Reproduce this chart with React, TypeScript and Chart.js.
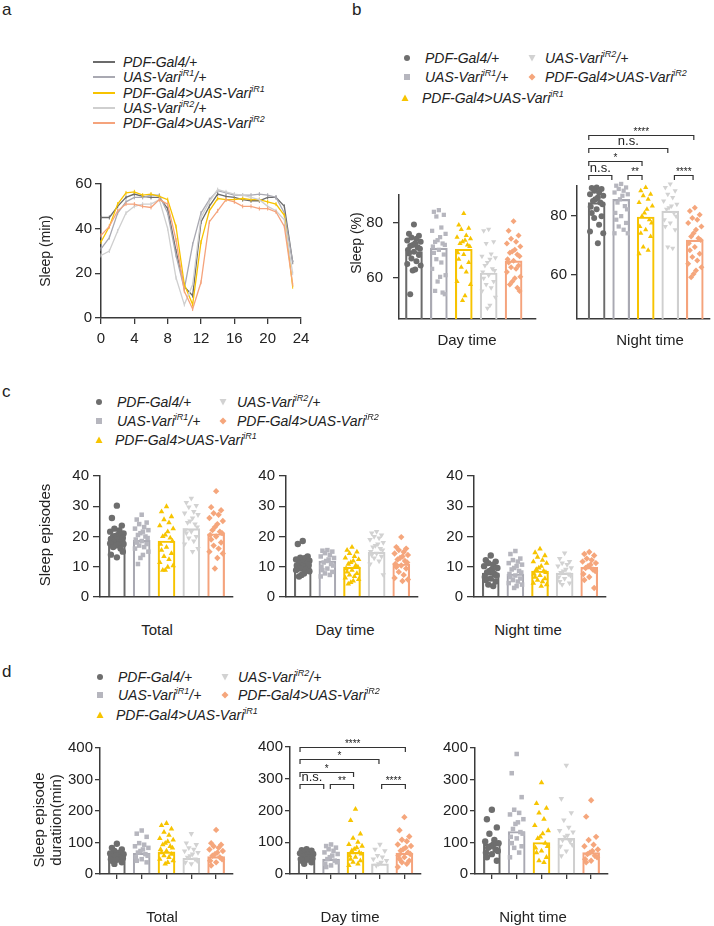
import React, { useEffect, useRef } from 'react';
import { Chart, registerables } from 'chart.js';
Chart.register(...registerables);

const FONT = '"Liberation Sans", Arial, Helvetica, sans-serif';
Chart.defaults.font.family = FONT;
Chart.defaults.color = '#222';

// ---------- genotypes ----------
const genoMain = ['PDF-Gal4/+', 'UAS-Vari', 'PDF-Gal4>UAS-Vari', 'UAS-Vari', 'PDF-Gal4>UAS-Vari'];
const genoSup = ['', 'iR1', 'iR1', 'iR2', 'iR2'];
const genoTail = ['', '/+', '', '/+', ''];

const lineColors = ['#6b6b6b', '#a9a9b2', '#f7c300', '#cfcfcf', '#f5a37c'];
const dotColors = ['#6e6e6e', '#b6b6be', '#f7c400', '#d2d2d2', '#f5a67c'];
const pointStyles = ['circle', 'rect', 'triangle', 'triangle', 'rectRot'];
const pointRotations = [0, 0, 0, 180, 0];

// ---------- panel a: sleep profile (min per hour) ----------
const hours = [0, 1, 2, 3, 4, 5, 6, 7, 8, 9, 10, 11, 12, 13, 14, 15, 16, 17, 18, 19, 20, 21, 22, 23];
const hourTicks = [0, 4, 8, 12, 16, 20, 24];
const aPDF = [45, 45, 50, 54, 55.5, 54.5, 54, 54, 49, 30, 14, 10, 43, 50, 55.5, 54.5, 54, 53, 52.5, 52.5, 54, 54, 50, 25];
const aUAS1 = [31, 36, 47, 52, 54, 54, 55, 55, 47, 28, 13, 33, 47, 53, 57, 56, 55, 55, 55, 55.5, 55, 54, 47, 25];
const aKD1 = [34, 41, 51, 56, 56.5, 55, 55.5, 54.5, 53, 41, 15, 6, 34, 48, 53.5, 53, 53, 53.5, 53, 53, 52, 51, 46, 14];
const aUAS2 = [28, 30, 39, 47, 50, 51, 51, 53, 40, 18, 6, 15, 45, 52, 57.5, 56.5, 55.5, 55, 54, 53, 50, 48, 44, 20];
const aKD2 = [37, 41, 48, 51, 51, 50, 49.5, 53, 51, 35, 12, 4, 16, 43, 48, 53, 52, 50, 50, 49, 49, 47.5, 41, 15];
const aSeries = [aPDF, aUAS1, aKD1, aUAS2, aKD2];

// ---------- panel b: sleep (%) ----------
const bDayMeans = [69.5, 70.7, 70.3, 61.7, 66.1];
const bDay1 = [79.3, 75.9, 75.2, 74.6, 74.1, 73.5, 73.0, 72.5, 71.9, 71.5, 71.0, 70.5, 70.0, 69.4, 68.8, 68.2, 67.0, 66.0, 65.0, 64.4, 63.0, 62.6, 54.0];
const bDay2 = [84.5, 83.9, 82.8, 82.2, 78.2, 77.0, 75.9, 74.7, 73.6, 73.0, 72.4, 71.9, 71.3, 70.1, 69.0, 68.4, 66.7, 65.5, 63.2, 60.9, 60.3, 58.6, 55.2, 54.6, 54.0];
const bDay3 = [83.3, 79.1, 77.9, 77.5, 75.3, 74.7, 74.1, 73.6, 73.0, 72.4, 71.9, 71.3, 69.0, 68.4, 66.7, 65.5, 63.8, 62.1, 58.6, 57.5, 53.4, 51.7];
const bDay4 = [77.6, 77.0, 73.0, 72.4, 68.6, 67.8, 67.2, 66.7, 65.5, 64.4, 63.2, 62.6, 62.1, 60.9, 59.8, 58.6, 57.5, 56.3, 55.2, 52.9, 50.0, 48.9];
const bDay5 = [80.5, 77.0, 75.3, 74.1, 73.0, 72.4, 71.3, 70.1, 69.5, 69.0, 68.4, 67.8, 66.7, 66.1, 65.5, 64.4, 63.8, 63.2, 62.1, 60.3, 59.8, 58.6, 57.5, 56.3, 55.2];
const bNightMeans = [84.4, 85.5, 79.5, 81.5, 71.7];
const bNight1 = [89.5, 89.3, 89.0, 88.4, 87.8, 87.2, 86.7, 86.1, 85.5, 84.9, 84.4, 83.8, 83.0, 82.1, 80.9, 79.8, 79.2, 76.9, 74.6, 74.0, 70.6];
const bNight2 = [90.7, 90.1, 89.5, 89.0, 88.4, 87.8, 87.2, 86.7, 85.5, 84.4, 83.2, 82.1, 80.9, 79.8, 78.6, 77.5, 76.3, 75.2, 74.0, 74.0];
const bNight3 = [89.5, 88.4, 87.2, 86.7, 85.5, 84.4, 83.2, 82.1, 80.9, 79.8, 78.6, 77.5, 76.3, 75.2, 74.0, 72.9, 69.4, 68.3, 67.1];
const bNight4 = [90.7, 89.5, 88.4, 87.2, 86.1, 84.9, 83.8, 83.2, 82.6, 82.1, 80.9, 79.8, 78.6, 77.5, 76.3, 75.2, 69.4, 68.9];
const bNight5 = [82.6, 81.5, 80.3, 79.2, 78.6, 77.5, 76.3, 75.2, 74.0, 72.9, 72.3, 71.7, 70.6, 69.4, 68.3, 67.1, 66.0, 64.8, 63.7, 62.5, 61.4, 60.2, 59.1];
const bTicks = [60, 80];

// ---------- panel c: sleep episodes ----------
const cTotalMeans = [18.8, 18.7, 18.5, 22.6, 20.9];
const cTotal1 = [30.2, 26.1, 23.6, 22.6, 22.0, 21.6, 21.0, 20.5, 20.2, 20.0, 19.7, 19.5, 19.2, 19.0, 18.8, 18.5, 18.2, 18.0, 17.7, 17.5, 17.2, 17.0, 16.5, 16.0, 15.0, 14.0, 13.1];
const cTotal2 = [27.2, 25.6, 24.6, 24.1, 23.1, 22.6, 22.1, 21.6, 21.1, 20.5, 20.0, 19.5, 19.0, 18.5, 18.0, 17.5, 17.0, 16.5, 16.0, 15.0, 13.9, 12.9, 10.9];
const cTotal3 = [29.9, 28.2, 26.6, 25.6, 24.6, 23.6, 22.6, 21.6, 20.5, 20.0, 19.5, 18.5, 17.5, 16.5, 15.5, 14.4, 13.4, 12.4, 11.4, 10.4, 9.9, 8.9, 8.9];
const cTotal4 = [32.6, 31.2, 30.2, 29.7, 28.2, 27.7, 27.2, 26.1, 25.1, 24.6, 24.1, 23.1, 22.1, 21.6, 21.1, 20.0, 19.5, 18.5, 17.5, 16.0, 15.0];
const cTotal5 = [35.0, 29.7, 28.7, 27.7, 27.2, 26.1, 25.1, 24.1, 23.1, 22.1, 21.6, 21.1, 20.5, 20.0, 19.0, 18.0, 17.0, 16.0, 15.0, 14.4, 12.9, 9.4];
const cDayMeans = [10.9, 11.9, 9.9, 14.8, 10.9];
const cDay1 = [18.5, 17.5, 13.4, 13.0, 12.9, 12.4, 12.0, 11.9, 11.4, 11.0, 10.9, 10.6, 10.4, 10.0, 9.9, 9.6, 9.4, 9.0, 8.9, 8.5, 7.8, 7.3, 6.8];
const cDay2 = [15.5, 15.3, 15.0, 14.5, 13.9, 13.4, 12.9, 12.4, 11.9, 11.4, 10.9, 10.4, 9.9, 9.4, 8.9, 8.3, 7.8, 7.3, 6.8];
const cDay3 = [16.5, 15.5, 14.9, 14.4, 13.4, 12.9, 12.4, 11.9, 11.4, 10.9, 10.4, 9.9, 9.4, 8.9, 8.3, 7.8, 7.3, 6.8, 6.3, 5.8, 5.3, 4.8, 4.3];
const cDay4 = [21.6, 21.1, 20.5, 20.0, 19.5, 19.0, 18.0, 17.5, 17.0, 16.5, 16.0, 15.5, 15.0, 14.4, 13.9, 13.4, 12.9, 11.9, 10.9, 7.3];
const cDay5 = [19.8, 16.5, 16.0, 15.5, 14.9, 14.4, 13.9, 13.4, 12.9, 12.4, 11.9, 11.4, 10.9, 10.4, 9.9, 9.4, 8.3, 7.3, 6.3, 5.8, 5.3];
const cNightMeans = [7.9, 7.6, 8.6, 7.9, 9.8];
const cNight1 = [13.7, 12.2, 11.7, 11.2, 10.7, 10.2, 9.6, 9.1, 8.6, 8.1, 7.6, 7.1, 6.6, 6.1, 5.6, 5.1, 4.1, 3.6];
const cNight2 = [15.2, 14.2, 12.7, 12.2, 11.7, 11.2, 10.7, 10.2, 9.6, 9.1, 8.6, 8.1, 7.6, 7.1, 6.6, 6.1, 5.6, 5.1, 4.6, 4.1, 3.6, 3.0];
const cNight3 = [15.9, 14.7, 13.7, 13.2, 12.2, 11.7, 11.2, 10.2, 9.6, 9.1, 8.6, 8.1, 7.6, 7.1, 6.6, 6.1, 5.6, 5.1, 4.6, 4.1, 3.6];
const cNight4 = [14.5, 12.7, 11.7, 11.2, 10.7, 10.2, 9.6, 9.1, 8.6, 8.1, 7.6, 7.1, 6.6, 6.1, 5.1, 4.6, 4.1];
const cNight5 = [14.9, 14.2, 13.7, 12.7, 12.2, 11.7, 11.2, 10.7, 10.2, 9.6, 9.1, 8.6, 7.6, 6.6, 5.6, 3.0];
const cTicks = [0, 10, 20, 30, 40];

// ---------- panel d: sleep episode duration (min) ----------
const dTotalMeans = [60, 66, 70, 50, 55];
const dTotal1 = [96, 83, 78, 73, 68, 65, 63, 60, 58, 55, 53, 50, 47, 45, 42, 37, 32];
const dTotal2 = [138, 128, 118, 98, 93, 88, 83, 78, 73, 68, 63, 58, 53, 47, 42, 37];
const dTotal3 = [161, 154, 143, 133, 123, 113, 108, 103, 98, 93, 88, 83, 78, 73, 68, 63, 58, 53, 47, 42, 37, 32];
const dTotal4 = [128, 98, 93, 83, 78, 73, 68, 63, 58, 53, 47, 42, 37, 32];
const dTotal5 = [140, 98, 93, 88, 83, 78, 73, 68, 63, 58, 53, 47, 42, 37, 27];
const dDayMeans = [50, 47, 68, 32, 66];
const dDay1 = [78, 75, 73, 70, 68, 65, 63, 60, 58, 55, 53, 50, 47, 45, 42, 37, 32];
const dDay2 = [93, 88, 83, 78, 73, 68, 63, 58, 53, 47, 42, 37, 32, 27, 22];
const dDay3 = [204, 169, 126, 113, 100, 93, 88, 83, 78, 73, 68, 63, 58, 53, 47, 42, 37, 32, 27];
const dDay4 = [93, 78, 73, 58, 53, 47, 42, 37, 32, 27];
const dDay5 = [179, 138, 118, 108, 103, 93, 88, 83, 78, 73, 68, 63, 58, 53, 47, 42, 37, 32, 22];
const dNightMeans = [95, 135, 100, 113, 68];
const dNight1 = [204, 174, 148, 128, 108, 103, 98, 93, 88, 83, 78, 73, 68, 63, 53, 42];
const dNight2 = [381, 320, 244, 204, 194, 189, 174, 164, 159, 143, 133, 128, 118, 113, 98, 88, 83, 68, 53];
const dNight3 = [290, 224, 209, 194, 174, 154, 138, 128, 118, 113, 98, 88, 83, 73, 68, 53, 42, 37];
const dNight4 = [345, 239, 194, 171, 148, 138, 133, 123, 118, 108, 103, 93, 88, 73, 58];
const dNight5 = [234, 182, 118, 108, 93, 88, 78, 73, 68, 63, 58, 53, 47, 42, 37];
const dTicks = [0, 100, 200, 300, 400];

// significance annotations: [from, to, y, label]
const bNightSig: [number, number, number, string][] = [
  [-0.32, 3.96, 107.3, '****'],
  [-0.32, 2.9, 102.8, 'n.s.'],
  [-0.32, 1.85, 98.4, '*'],
  [-0.32, 0.62, 93.8, 'n.s.'],
  [1.28, 1.85, 93.8, '**'],
  [3.17, 3.93, 93.8, '****'],
];
const dDaySig: [number, number, number, string][] = [
  [-0.27, 4.04, 401, '****'],
  [-0.27, 2.96, 361, '*'],
  [-0.27, 1.92, 322, '*'],
  [-0.27, 0.7, 282, 'n.s.'],
  [0.97, 1.92, 282, '**'],
  [3.07, 4.04, 282, '****'],
];

const jitter = [0, -0.2, 0.2, -0.1, 0.1, -0.27, 0.27, 0.05, -0.05, -0.15, 0.15, 0.24, -0.24];
const AXIS = '#3a3a3a';

const bracketPlugin = {
  id: 'brackets',
  afterDatasetsDraw(chart: any, _args: any, opts: any) {
    const items = (opts && opts.items) || [];
    if (!items.length) return;
    const { ctx } = chart;
    const x = chart.scales.x, y = chart.scales.y;
    ctx.save();
    ctx.strokeStyle = '#333';
    ctx.lineWidth = 1.2;
    ctx.fillStyle = '#222';
    ctx.textAlign = 'center';
    items.forEach((b: any) => {
      const x1 = x.getPixelForValue(b[0]);
      const x2 = x.getPixelForValue(b[1]);
      const yy = Math.round(y.getPixelForValue(b[2])) + 0.5;
      ctx.beginPath();
      ctx.moveTo(x1, yy + 4.5);
      ctx.lineTo(x1, yy);
      ctx.lineTo(x2, yy);
      ctx.lineTo(x2, yy + 4.5);
      ctx.stroke();
      const star = b[3].indexOf('*') >= 0;
      ctx.font = (star ? '10px ' : '13px ') + FONT;
      ctx.textBaseline = 'bottom';
      ctx.fillText(b[3], (x1 + x2) / 2, yy + (star ? 2 : -1));
    });
    ctx.restore();
  },
};

type BarSpec = {
  left: number; top: number; width: number; height: number;
  groups: number[][]; means: number[];
  yMin: number; yMax: number; yTicks: number[];
  xMin: number; xMax: number;
  yWidth: number; padTop: number; padRight: number; xHeight: number;
  tickLen: number; tickPad: number; xTickMarks: boolean;
  radius: number; barW: number; fontSize: number;
  sig?: [number, number, number, string][];
};

function BarPanel(p: BarSpec) {
  const ref = useRef<HTMLCanvasElement | null>(null);
  useEffect(() => {
    if (!ref.current) return;
    const datasets: any[] = [];
    p.groups.forEach((vals, gi) => {
      datasets.push({
        type: 'scatter',
        data: vals.map((v, j) => ({ x: gi + jitter[j % jitter.length], y: v })),
        pointStyle: pointStyles[gi],
        rotation: pointRotations[gi],
        pointRadius: p.radius,
        pointBackgroundColor: dotColors[gi],
        pointBorderColor: dotColors[gi],
        pointBorderWidth: 0,
        order: 1,
        clip: false,
      });
    });
    datasets.push({
      type: 'bar',
      data: p.means.map((m, i) => ({ x: i, y: m })),
      backgroundColor: 'rgba(255,255,255,0)',
      borderColor: lineColors,
      borderWidth: 1.5,
      borderSkipped: 'bottom',
      barThickness: p.barW,
      order: 2,
    });
    const chart = new Chart(ref.current, {
      type: 'bar',
      data: { datasets },
      plugins: [bracketPlugin],
      options: {
        animation: false,
        responsive: false,
        events: [],
        layout: { padding: { top: p.padTop, right: p.padRight, left: 0, bottom: 0 } },
        plugins: { legend: { display: false }, tooltip: { enabled: false }, brackets: { items: p.sig || [] } } as any,
        scales: {
          x: {
            type: 'linear', min: p.xMin, max: p.xMax, offset: false,
            afterBuildTicks: (s: any) => { s.ticks = p.xTickMarks ? [0, 1, 2, 3, 4].map((v) => ({ value: v })) : []; },
            afterFit: (s: any) => { s.height = p.xHeight; },
            grid: { display: p.xTickMarks, drawOnChartArea: false, drawTicks: true, tickLength: 5, color: AXIS, lineWidth: 1.3, offset: false },
            border: { display: true, color: AXIS, width: 1.5 },
            ticks: { display: false },
          },
          y: {
            type: 'linear', min: p.yMin, max: p.yMax,
            afterBuildTicks: (s: any) => { s.ticks = p.yTicks.map((v) => ({ value: v })); },
            afterFit: (s: any) => { s.width = p.yWidth; },
            grid: { drawOnChartArea: false, drawTicks: true, tickLength: p.tickLen, color: AXIS, lineWidth: 1.3 },
            border: { display: true, color: AXIS, width: 1.5 },
            ticks: { padding: p.tickPad, font: { size: p.fontSize }, color: '#222' },
          },
        },
      } as any,
    });
    return () => chart.destroy();
  }, []);
  return (
    <canvas ref={ref} width={p.width} height={p.height}
      style={{ position: 'absolute', left: p.left, top: p.top, width: p.width, height: p.height }} />
  );
}

function LinePanel() {
  const ref = useRef<HTMLCanvasElement | null>(null);
  useEffect(() => {
    if (!ref.current) return;
    const datasets = aSeries.map((s, i) => ({
      type: 'line',
      data: s.map((v, j) => ({ x: hours[j], y: v })),
      borderColor: lineColors[i],
      backgroundColor: lineColors[i],
      borderWidth: 1.3,
      pointStyle: 'line',
      rotation: 90,
      pointRadius: 2,
      pointBorderWidth: 1,
      pointBorderColor: lineColors[i],
      tension: 0,
      order: 5 - i,
      clip: false,
    }));
    const chart = new Chart(ref.current, {
      type: 'line',
      data: { datasets } as any,
      options: {
        animation: false,
        responsive: false,
        events: [],
        layout: { padding: { top: 14, right: 24, left: 0, bottom: 0 } },
        plugins: { legend: { display: false }, tooltip: { enabled: false } },
        scales: {
          x: {
            type: 'linear', min: 0, max: 24,
            afterBuildTicks: (s: any) => { s.ticks = hourTicks.map((v) => ({ value: v })); },
            afterFit: (s: any) => { s.height = 42; },
            grid: { drawOnChartArea: false, drawTicks: true, tickLength: 6, color: AXIS, lineWidth: 1.3 },
            border: { display: true, color: AXIS, width: 1.5 },
            ticks: { padding: 6, font: { size: 15 }, color: '#222', maxRotation: 0 },
          },
          y: {
            type: 'linear', min: 0, max: 60,
            afterBuildTicks: (s: any) => { s.ticks = [0, 20, 40, 60].map((v) => ({ value: v })); },
            afterFit: (s: any) => { s.width = 71; },
            grid: { drawOnChartArea: false, drawTicks: true, tickLength: 6, color: AXIS, lineWidth: 1.3 },
            border: { display: true, color: AXIS, width: 1.5 },
            ticks: { padding: 3, font: { size: 15 }, color: '#222' },
          },
        },
      } as any,
    });
    return () => chart.destroy();
  }, []);
  return <canvas ref={ref} width={295} height={190} style={{ position: 'absolute', left: 30, top: 170, width: 295, height: 190 }} />;
}

function Geno({ i }: { i: number }) {
  return (
    <span style={{ fontStyle: 'italic' }}>
      {genoMain[i]}
      {genoSup[i] ? <span style={{ fontSize: 9, position: 'relative', top: -6 }}>{genoSup[i]}</span> : null}
      {genoTail[i]}
    </span>
  );
}

function Marker({ g, x, y }: { g: number; x: number; y: number }) {
  const c = dotColors[g];
  let shape: any;
  if (g === 0) shape = <circle cx={4} cy={4} r={3} fill={c} />;
  else if (g === 1) shape = <rect x={1} y={1} width={6} height={6} fill={c} />;
  else if (g === 2) shape = <polygon points="4,0.5 7.5,7 0.5,7" fill={c} />;
  else if (g === 3) shape = <polygon points="0.5,1 7.5,1 4,7.5" fill={c} />;
  else shape = <polygon points="4,0.5 7.5,4 4,7.5 0.5,4" fill={c} />;
  return (
    <svg width={8} height={8} style={{ position: 'absolute', left: x - 4, top: y - 4 }}>{shape}</svg>
  );
}

function Text({ x, y, children, size = 14, style = {} }: any) {
  return (
    <div style={{ position: 'absolute', left: x, top: y - 9, lineHeight: '18px', fontSize: size, whiteSpace: 'nowrap', fontFamily: FONT, color: '#222', ...style }}>
      {children}
    </div>
  );
}

function CenterText({ cx, cy, children, size = 15 }: any) {
  return (
    <div style={{ position: 'absolute', left: cx - 100, top: cy - 10, width: 200, textAlign: 'center', lineHeight: '20px', fontSize: size, fontFamily: FONT, color: '#222', whiteSpace: 'nowrap' }}>
      {children}
    </div>
  );
}

function VText({ cx, cy, children, size = 14 }: any) {
  return (
    <div style={{ position: 'absolute', left: cx - 100, top: cy - 10, width: 200, textAlign: 'center', lineHeight: '20px', fontSize: size, fontFamily: FONT, color: '#222', whiteSpace: 'nowrap', transform: 'rotate(-90deg)' }}>
      {children}
    </div>
  );
}

type LegItem = [number, number, number, number]; // group, markerX, textX, y
const legB: LegItem[] = [[0, 407, 425, 58], [1, 407, 425, 77], [2, 405, 422, 98], [3, 532, 545, 58], [4, 532, 545, 77]];
const legC: LegItem[] = [[0, 99, 117, 402], [1, 99, 117, 421], [2, 99, 115, 440], [3, 223, 237, 402], [4, 223, 237, 421]];
const legD: LegItem[] = [[0, 100, 118, 677], [1, 100, 118, 695], [2, 100, 116, 715], [3, 225, 238, 677], [4, 225, 238, 695]];
const legARows = [62, 77, 93, 108, 123];

function DotLegend({ items }: { items: LegItem[] }) {
  return (
    <>
      {items.map(([g, mx, tx, y]) => (
        <React.Fragment key={g}>
          <Marker g={g} x={mx} y={y} />
          <Text x={tx} y={y}><Geno i={g} /></Text>
        </React.Fragment>
      ))}
    </>
  );
}

const cdBase = { yWidth: 45, padTop: 10, xHeight: 6, tickLen: 7, tickPad: 4, radius: 3.2, barW: 17, fontSize: 15, xMin: -0.68, xMax: 4.68 };

export default function App() {
  return (
    <div style={{ position: 'absolute', left: 0, top: 0, width: 714, height: 926, background: '#fff', overflow: 'hidden', fontFamily: FONT }}>
      {/* panel letters */}
      <Text x={2} y={10} size={17}>a</Text>
      <Text x={352} y={10} size={17}>b</Text>
      <Text x={2} y={392} size={17}>c</Text>
      <Text x={2} y={672} size={17}>d</Text>

      {/* panel a legend */}
      {legARows.map((y, i) => (
        <React.Fragment key={i}>
          <div style={{ position: 'absolute', left: 93, top: y - 1, width: 22, height: 2, background: lineColors[i] }} />
          <Text x={123} y={y}><Geno i={i} /></Text>
        </React.Fragment>
      ))}
      <LinePanel />
      <VText cx={45} cy={251} size={14}>Sleep (min)</VText>

      {/* panel b */}
      <DotLegend items={legB} />
      <BarPanel left={350} top={176} width={190} height={176}
        groups={[bDay1, bDay2, bDay3, bDay4, bDay5]} means={bDayMeans}
        yMin={45} yMax={90} yTicks={bTicks} xMin={-0.6} xMax={4.9}
        yWidth={49} padTop={10} padRight={2} xHeight={33} tickLen={6} tickPad={10} xTickMarks={false}
        radius={3} barW={17} fontSize={15} />
      <BarPanel left={535} top={120} width={179} height={232}
        groups={[bNight1, bNight2, bNight3, bNight4, bNight5]} means={bNightMeans}
        yMin={45} yMax={90} yTicks={bTicks} xMin={-0.8} xMax={4.62}
        yWidth={42} padTop={66} padRight={2} xHeight={33} tickLen={6} tickPad={4} xTickMarks={false}
        radius={3} barW={17} fontSize={15} sig={bNightSig} />
      <VText cx={356} cy={243} size={14}>Sleep (%)</VText>
      <CenterText cx={467} cy={340}>Day time</CenterText>
      <CenterText cx={650} cy={340}>Night time</CenterText>

      {/* panel c */}
      <DotLegend items={legC} />
      <BarPanel {...cdBase} left={55} top={463} width={185} height={147}
        groups={[cTotal1, cTotal2, cTotal3, cTotal4, cTotal5]} means={cTotalMeans}
        yMin={0} yMax={40} yTicks={cTicks} padRight={7} xTickMarks={false} />
      <BarPanel {...cdBase} left={241} top={463} width={185} height={147}
        groups={[cDay1, cDay2, cDay3, cDay4, cDay5]} means={cDayMeans}
        yMin={0} yMax={40} yTicks={cTicks} padRight={8} xTickMarks={false} />
      <BarPanel {...cdBase} left={429} top={463} width={185} height={147}
        groups={[cNight1, cNight2, cNight3, cNight4, cNight5]} means={cNightMeans}
        yMin={0} yMax={40} yTicks={cTicks} padRight={8} xTickMarks={false} />
      <VText cx={45} cy={535} size={15}>Sleep episodes</VText>
      <CenterText cx={157} cy={630}>Total</CenterText>
      <CenterText cx={345} cy={630}>Day time</CenterText>
      <CenterText cx={528} cy={630}>Night time</CenterText>

      {/* panel d */}
      <DotLegend items={legD} />
      <BarPanel {...cdBase} left={55} top={737} width={185} height={148}
        groups={[dTotal1, dTotal2, dTotal3, dTotal4, dTotal5]} means={dTotalMeans}
        yMin={0} yMax={400} yTicks={dTicks} padRight={7} xTickMarks={true} tickLen={5} tickPad={2} />
      <BarPanel {...cdBase} left={245} top={720} width={185} height={165}
        groups={[dDay1, dDay2, dDay3, dDay4, dDay5]} means={dDayMeans}
        yMin={0} yMax={400} yTicks={dTicks} padTop={27} padRight={9} xTickMarks={true} tickLen={5} tickPad={2} sig={dDaySig} />
      <BarPanel {...cdBase} left={430} top={737} width={185} height={148}
        groups={[dNight1, dNight2, dNight3, dNight4, dNight5]} means={dNightMeans}
        yMin={0} yMax={400} yTicks={dTicks} padRight={7} xTickMarks={true} tickLen={5} tickPad={2} />
      <VText cx={39} cy={820} size={15}>Sleep episode</VText>
      <VText cx={56} cy={820} size={15}>duratiion(min)</VText>
      <CenterText cx={162} cy={917}>Total</CenterText>
      <CenterText cx={350} cy={917}>Day time</CenterText>
      <CenterText cx={533} cy={917}>Night time</CenterText>
    </div>
  );
}
